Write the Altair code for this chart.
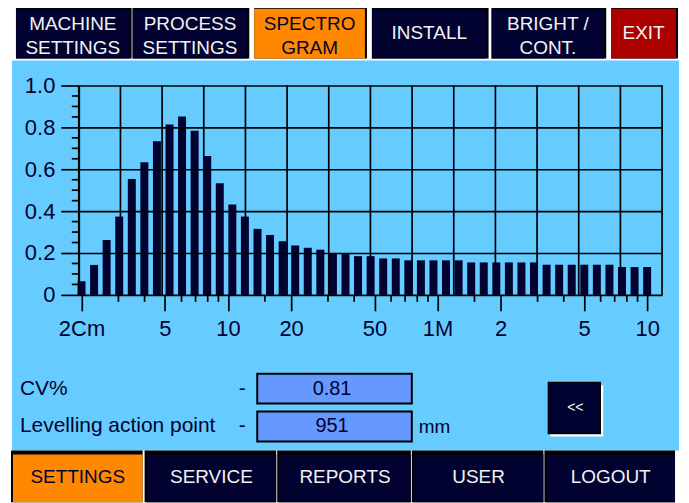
import altair as alt
import numpy as np
import pandas as pd

# ---------------- data ----------------
size_cm = [2.000, 2.296, 2.636, 3.027, 3.475, 3.989, 4.580, 5.259, 6.037, 6.931,
           7.958, 9.137, 10.49, 12.04, 13.83, 15.87, 18.23, 20.92, 24.02, 27.58,
           31.67, 36.36, 41.74, 47.92, 55.02, 63.17, 72.52, 83.26, 95.59, 109.7,
           126.0, 144.7, 166.1, 190.7, 218.9, 251.3, 288.5, 331.3, 380.3, 436.6,
           501.3, 575.5, 660.8, 758.6, 870.9, 1000.0]
amplitude = [0.065, 0.143, 0.262, 0.374, 0.553, 0.633, 0.734, 0.814, 0.852, 0.784,
             0.663, 0.533, 0.432, 0.374, 0.315, 0.286, 0.256, 0.236, 0.225, 0.216,
             0.200, 0.200, 0.185, 0.185, 0.174, 0.174, 0.165, 0.165, 0.165, 0.165,
             0.165, 0.155, 0.155, 0.155, 0.155, 0.155, 0.155, 0.144, 0.144, 0.144,
             0.144, 0.144, 0.144, 0.133, 0.133, 0.133]

x_major_ticks = [2, 5, 10, 20, 50, 100, 200, 500, 1000]
x_major_labels = ["2Cm", "5", "10", "20", "50", "1M", "2", "5", "10"]
x_minor_ticks = [3, 4, 6, 7, 8, 9, 15, 30, 40, 60, 70, 80, 90,
                 150, 300, 400, 600, 700, 800, 900]
y_major_ticks = [0, 0.2, 0.4, 0.6, 0.8, 1.0]
y_minor_ticks = [0.05, 0.1, 0.15, 0.25, 0.3, 0.35, 0.45, 0.5, 0.55,
                 0.65, 0.7, 0.75, 0.85, 0.9, 0.95]

top_buttons = [["MACHINE", "SETTINGS"], ["PROCESS", "SETTINGS"], ["SPECTRO", "GRAM"],
               ["INSTALL"], ["BRIGHT /", "CONT."], ["EXIT"]]
bottom_buttons = ["SETTINGS", "SERVICE", "REPORTS", "USER", "LOGOUT"]
readout_labels = ["CV%", "Levelling action point"]
readout_values = ["0.81", "951"]
readout_units = ["", "mm"]
back_button = "<<"

# ---------------- style / layout ----------------
FONT = "Liberation Sans"
NAVY = "#020230"
ORANGE = "#FF8800"
RED = "#AA0000"
PANEL = "#66CCFF"
BOX = "#6699FF"
LIGHT = "#F2F2F2"
LW = 1.7

W, H = 585, 210          # plot area
X0, Y0 = 79, 85          # page position of plot origin
X_LO, X_HI = 1.941, 1178.0


def px(x):
    return x - X0


def py(y):
    return y - Y0


dummy = alt.Data(values=[{"k": 0}])
layers = []


def rect(x1, y1, x2, y2, fill, stroke=None, sw=0):
    kw = dict(fill=fill, opacity=1)
    if stroke:
        kw.update(stroke=stroke, strokeWidth=sw)
    return alt.Chart(dummy).mark_rect(**kw).encode(
        x=alt.value(px(x1)), x2=alt.value(px(x2)),
        y=alt.value(py(y1)), y2=alt.value(py(y2)))


def label(txt, x, y, size, color, align="center"):
    return alt.Chart(dummy).mark_text(
        text=txt, font=FONT, fontSize=size, color=color, align=align,
        baseline="middle").encode(x=alt.value(px(x)), y=alt.value(py(y)))


# main blue panel
layers.append(rect(12, 60, 681, 451, PANEL))

# top buttons
TOP_SPANS = [(16, 130), (133, 248), (255, 366), (373, 488), (493, 606), (613, 678)]
TOP_FILL = [NAVY, NAVY, ORANGE, NAVY, NAVY, RED]
for (a, b), fill, lines in zip(TOP_SPANS, TOP_FILL, top_buttons):
    layers.append(rect(a, 6, b + 2, 58, "#000000"))
    layers.append(rect(a, 8, b, 58, fill))
    tc = NAVY if fill == ORANGE else LIGHT
    cx = (a + b) / 2
    if len(lines) == 2:
        layers.append(label(lines[0], cx, 23, 19, tc))
        layers.append(label(lines[1], cx, 47.5, 19, tc))
    else:
        layers.append(label(lines[0], cx, 32, 19, tc))

# bottom buttons
BOTTOM_SPANS = [(13, 143), (147, 277), (280, 412), (415, 545), (548, 677)]
BOTTOM_FILL = [ORANGE, NAVY, NAVY, NAVY, NAVY]
for (a, b), fill, txt in zip(BOTTOM_SPANS, BOTTOM_FILL, bottom_buttons):
    layers.append(rect(a - 2, 451, b, 503, "#000000"))
    layers.append(rect(a, 455, b, 503, fill))
    tc = NAVY if fill == ORANGE else LIGHT
    layers.append(label(txt, (a + b) / 2, 478, 19, tc))

# scales and axes (same definitions shared by every data layer)
xscale = alt.Scale(type="log", domain=[X_LO, X_HI], nice=False, padding=0)
yscale = alt.Scale(domain=[0, 1], nice=False, zero=False, padding=0)

xlabel_expr = " : ".join(
    f"datum.value == {v} ? '{l}'" for v, l in zip(x_major_ticks, x_major_labels)) + " : ''"
xaxis = alt.Axis(
    values=x_major_ticks, labelExpr=xlabel_expr, title=None, grid=False,
    domain=False, ticks=True, tickSize=16, tickColor="black", tickWidth=LW,
    labelFont=FONT, labelFontSize=22, labelColor=NAVY, labelPadding=8,
    labelOverlap=False, labelFlush=False, labelBound=False, zindex=1)
yaxis = alt.Axis(
    values=y_major_ticks, labelExpr="datum.value == 0 ? '0' : format(datum.value, '.1f')",
    title=None, grid=True, gridColor="black", gridWidth=LW, gridOpacity=1,
    domain=True, domainColor="black", domainWidth=LW,
    tickSize=18, tickColor="black", tickWidth=LW,
    labelFont=FONT, labelFontSize=22, labelColor=NAVY, labelPadding=6,
    labelOverlap=False, labelFlush=False, labelBound=False, zindex=1)

# vertical grid lines (evenly spaced across the log domain)
grid_df = pd.DataFrame({"g": np.geomspace(X_LO, X_HI, 15)})
layers.append(alt.Chart(grid_df).mark_rule(color="black", strokeWidth=LW).encode(
    x=alt.X("g:Q", scale=xscale, axis=xaxis),
    y=alt.value(0), y2=alt.value(H)))

# bars
df = pd.DataFrame({"size": size_cm, "amp": amplitude})
layers.append(alt.Chart(df).mark_bar(color=NAVY, size=8).encode(
    x=alt.X("size:Q", scale=xscale, axis=xaxis),
    y=alt.Y("amp:Q", scale=yscale, axis=yaxis)))

# minor ticks
layers.append(alt.Chart(pd.DataFrame({"g": x_minor_ticks})).mark_rule(
    color="black", strokeWidth=LW).encode(
    x=alt.X("g:Q", scale=xscale, axis=xaxis), y=alt.value(H), y2=alt.value(H + 7)))
layers.append(alt.Chart(pd.DataFrame({"amp": y_minor_ticks})).mark_rule(
    color="black", strokeWidth=LW).encode(
    y=alt.Y("amp:Q", scale=yscale, axis=yaxis), x=alt.value(-7), x2=alt.value(0)))

# readouts
ROW_Y = [389, 427]
for lab, val, unit, yc in zip(readout_labels, readout_values, readout_units, ROW_Y):
    layers.append(label(lab, 20, yc, 21, NAVY, align="left"))
    layers.append(label("-", 243, yc, 21, NAVY))
    layers.append(rect(258, yc - 15, 413, yc + 15, BOX, stroke="black", sw=2))
    layers.append(label(val, 333, yc, 20, NAVY))
    if unit:
        layers.append(label(unit, 420, yc + 1, 19, NAVY, align="left"))

# "<<" button
layers.append(rect(552, 386, 605, 437, "#FFFFFF"))
layers.append(rect(550, 383, 602, 434, NAVY, stroke="black", sw=1.5))
layers.append(label(back_button, 577, 408, 14, LIGHT))

chart = alt.layer(*layers).properties(
    width=W, height=H,
    padding={"left": 71, "top": 77, "right": 19, "bottom": 208},
    autosize=alt.AutoSizeParams(type="none"),
    background="white",
).configure_view(stroke=None)

chart.save("out.html", embed_options={"renderer": "svg", "actions": False})
